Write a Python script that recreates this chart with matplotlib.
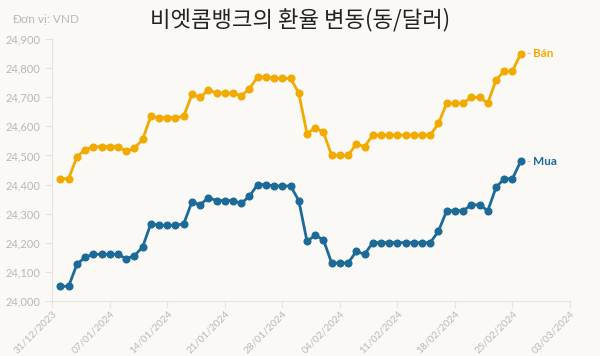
import matplotlib
matplotlib.use("Agg")
import matplotlib.pyplot as plt
import matplotlib.dates as mdates
import pandas as pd

# daily rates, 01/01/2024 -> 26/02/2024 (VND per USD)
dates = pd.date_range("2024-01-01", "2024-02-26", freq="D")
ban = [24420, 24420, 24495, 24520, 24530, 24530, 24530, 24530, 24515, 24525,
       24555, 24635, 24630, 24630, 24630, 24635, 24710, 24700, 24725, 24715,
       24715, 24715, 24705, 24730, 24770, 24770, 24765, 24765, 24765, 24715,
       24575, 24595, 24580, 24500, 24500, 24500, 24540, 24530, 24570, 24570,
       24570, 24570, 24570, 24570, 24570, 24570, 24610, 24680, 24680, 24680,
       24700, 24700, 24680, 24760, 24790, 24790, 24850]
mua = [24050, 24050, 24125, 24150, 24160, 24160, 24160, 24160, 24145, 24155,
       24185, 24265, 24260, 24260, 24260, 24265, 24340, 24330, 24355, 24345,
       24345, 24345, 24335, 24360, 24400, 24400, 24395, 24395, 24395, 24345,
       24205, 24225, 24210, 24130, 24130, 24130, 24170, 24160, 24200, 24200,
       24200, 24200, 24200, 24200, 24200, 24200, 24240, 24310, 24310, 24310,
       24330, 24330, 24310, 24390, 24420, 24420, 24480]
x_ticks = pd.date_range("2023-12-31", "2024-03-03", freq="7D")
y_ticks = list(range(24000, 24901, 100))

ORANGE = "#F2AA00"
BLUE = "#1C6A97"
GREY = "#B8B8B8"
BG = "#FAF9F6"

plt.rcParams["font.family"] = ["Lato", "DejaVu Sans"]

fig = plt.figure(figsize=(6, 3.56), dpi=100, facecolor=BG)
ax = fig.add_axes([0.087, 0.155, 0.863, 0.735], facecolor=BG)

for vals, col, name in [(ban, ORANGE, "Bán"), (mua, BLUE, "Mua")]:
    ax.plot(dates, vals, color=col, lw=2.0, marker="o", ms=4.8,
            solid_joinstyle="round", clip_on=False, zorder=3)
    ax.annotate("-", (dates[-1], vals[-1]), xytext=(4, 0), textcoords="offset points",
                va="center", ha="left", color=GREY, fontsize=8)
    ax.annotate(name, (dates[-1], vals[-1]), xytext=(9, 0), textcoords="offset points",
                va="center", ha="left", color=col, fontsize=8.5, fontweight="bold")

ax.set_xlim(x_ticks[0], x_ticks[-1])
ax.set_ylim(24000, 24900)
ax.set_xticks(x_ticks)
ax.xaxis.set_major_formatter(mdates.DateFormatter("%d/%m/%Y"))
ax.set_yticks(y_ticks)
ax.set_yticklabels([f"{v:,}" for v in y_ticks])

for lab in ax.get_xticklabels():
    lab.set_rotation(45)
    lab.set_ha("right")
    lab.set_va("top")
    lab.set_rotation_mode("anchor")

ax.tick_params(colors="#E6E4E0", labelcolor=GREY, labelsize=8, length=5, width=0.8)
ax.tick_params(axis="x", labelsize=7.3, pad=1)
for side in ["top", "right"]:
    ax.spines[side].set_visible(False)
for side in ["left", "bottom"]:
    ax.spines[side].set_color("#E6E4E0")
    ax.spines[side].set_linewidth(0.8)

fig.text(0.02, 0.945, "Đơn vị: VND", color=GREY, fontsize=8.5, va="center")
fig.text(0.5, 0.945, "비엣콤뱅크의 환율 변동(동/달러)", ha="center", va="center",
         fontsize=16, color="#222222", family=["Noto Sans CJK KR", "DejaVu Sans"])

fig.savefig("out.png", dpi=100, facecolor=BG)
